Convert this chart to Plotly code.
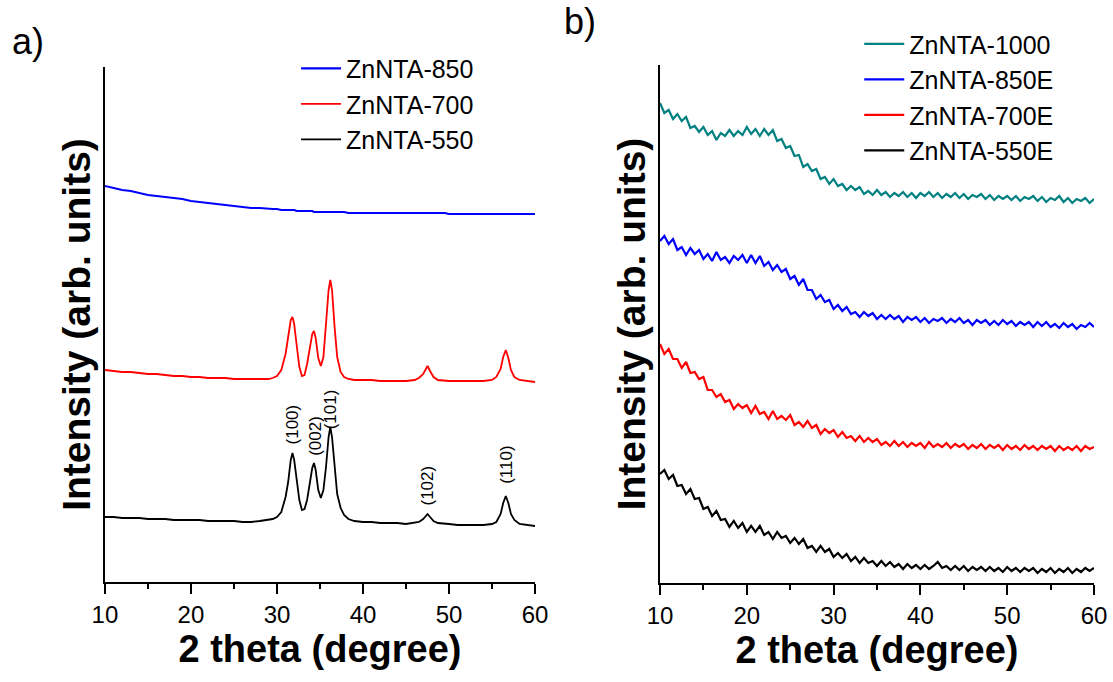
import plotly.graph_objects as go

# ---------------- Panel a data (2 theta in degree, intensity in arb. units) -------------
X_A = [10, 11, 12, 13, 14, 15, 16, 17, 18, 19, 20, 21, 22, 23, 24, 25, 26, 27, 28, 29,
       29.5, 30, 30.5, 31, 31.3, 31.6, 31.8, 32.0, 32.3, 32.6, 32.9,
       33.2, 33.5, 33.8, 34.1, 34.3, 34.5, 34.8, 35.1, 35.4, 35.7,
       36.0, 36.2, 36.4, 36.7, 37.0, 37.4, 37.8, 38.3, 39, 40,
       41, 42, 43, 44, 45, 46,
       46.5, 47, 47.3, 47.5, 47.8, 48.2, 48.7, 49.5, 50,
       51, 52, 53, 54, 55,
       55.5, 56, 56.3, 56.6, 56.9, 57.2, 57.6, 58.2, 59, 60]

ZNNTA_550 = [65, 65, 64, 64, 64, 63, 63, 63, 62, 62, 62, 62, 61, 61, 61, 61, 60, 60, 61, 62,
             63, 65, 70, 85, 100, 122, 129, 122, 100, 82, 72,
             73, 82, 98, 114, 119, 112, 92, 84, 92, 115,
             145, 155, 145, 115, 88, 74, 67, 63, 61, 60,
             60, 59, 59, 59, 58, 59,
             60, 63, 66, 68, 65, 61, 59, 58, 58,
             57, 57, 57, 57, 58,
             60, 68, 79, 86, 79, 68, 62, 58, 57, 56]

ZNNTA_700 = [212, 211, 210, 210, 209, 208, 208, 207, 206, 206, 205, 205, 204, 204, 204, 203, 203, 203, 203, 203,
             204, 206, 212, 228, 245, 262, 265, 258, 236, 215, 206,
             207, 218, 235, 248, 251, 244, 224, 216, 225, 255,
             292, 302, 292, 255, 225, 210, 205, 203, 202, 202,
             202, 201, 201, 201, 201, 202,
             204, 208, 213, 216, 211, 205, 202, 201, 201,
             201, 201, 201, 201, 202,
             205, 213, 225, 232, 224, 212, 205, 202, 201, 200]

ZNNTA_850 = [396, 394, 392, 391, 389, 387, 386, 385, 384, 383, 381, 380, 379, 378, 377, 376, 375, 374, 374, 373,
             373, 373, 372, 372, 372, 372, 372, 372, 371, 371, 371,
             371, 371, 371, 371, 370, 370, 370, 370, 370, 370,
             370, 370, 370, 370, 370, 370, 370, 369, 369, 369,
             369, 369, 369, 369, 369, 369,
             369, 369, 369, 369, 369, 369, 369, 369, 368,
             368, 368, 368, 368, 368,
             368, 368, 368, 368, 368, 368, 368, 368, 368, 368]

PEAK_LABELS = ["(100)", "(002)", "(101)", "(102)", "(110)"]
PEAK_POS = [31.8, 34.4, 36.2, 47.5, 56.6]
PEAK_LABEL_Y = [158, 146, 173, 96, 117]

# ---------------- Panel b data --------------------------------------------------------
X_B = [10 + 0.5 * i for i in range(101)]

ZNNTA_1000 = [480, 470, 473, 464, 469, 462, 466, 455, 457, 451, 456, 448, 452, 443, 450, 447, 453, 447, 452, 448,
              456, 449, 454, 447, 454, 448, 453, 442, 444, 435, 437, 427, 428, 416, 419, 412, 414, 404, 406, 399,
              404, 397, 399, 393, 397, 393, 396, 389, 392, 388, 393, 388, 391, 386, 390, 387, 391, 386, 390, 385,
              390, 387, 391, 386, 390, 385, 389, 386, 390, 385, 389, 384, 388, 386, 389, 384, 388, 383, 387, 384,
              387, 383, 387, 382, 386, 384, 387, 382, 386, 381, 385, 383, 387, 381, 385, 380, 384, 382, 385, 380,
              384]

ZNNTA_850E = [342, 347, 339, 344, 333, 336, 328, 335, 329, 333, 324, 329, 322, 331, 323, 326, 320, 327, 323, 328,
              320, 328, 320, 327, 317, 321, 313, 318, 311, 314, 304, 307, 298, 304, 293, 293, 284, 288, 281, 283,
              274, 278, 272, 276, 269, 271, 266, 271, 267, 270, 264, 268, 264, 268, 264, 267, 261, 266, 263, 266,
              261, 265, 260, 264, 262, 265, 260, 264, 261, 265, 260, 263, 258, 263, 260, 263, 258, 262, 258, 263,
              259, 262, 257, 261, 258, 261, 256, 261, 257, 261, 256, 259, 255, 260, 256, 259, 254, 258, 256, 260,
              256]

ZNNTA_700E = [239, 229, 234, 224, 224, 215, 221, 210, 211, 204, 206, 193, 193, 186, 189, 181, 183, 174, 179, 175,
              178, 170, 177, 169, 171, 164, 172, 164, 167, 163, 168, 158, 161, 156, 162, 155, 158, 149, 154, 150,
              153, 146, 151, 145, 147, 142, 147, 141, 145, 141, 144, 138, 141, 137, 142, 137, 141, 136, 140, 137,
              140, 135, 141, 136, 139, 136, 140, 135, 139, 136, 139, 134, 138, 135, 139, 134, 138, 135, 138, 133,
              138, 134, 137, 133, 138, 134, 137, 133, 137, 134, 137, 132, 137, 133, 136, 133, 137, 132, 137, 134,
              136]

ZNNTA_550E = [109, 113, 104, 108, 97, 98, 89, 94, 84, 85, 74, 76, 67, 72, 63, 64, 56, 62, 55, 60,
              51, 57, 51, 57, 48, 51, 44, 51, 45, 47, 40, 45, 39, 44, 35, 37, 31, 37, 31, 34,
              26, 30, 25, 29, 22, 26, 20, 25, 20, 22, 17, 22, 17, 21, 16, 19, 14, 19, 15, 18,
              14, 18, 14, 17, 21, 15, 17, 13, 17, 13, 17, 12, 16, 13, 16, 12, 16, 12, 15, 11,
              16, 12, 15, 11, 15, 12, 15, 10, 14, 11, 15, 10, 14, 11, 15, 10, 14, 11, 15, 12,
              15]

X_TICKS = [10, 20, 30, 40, 50, 60]

FONT = "Liberation Sans, Arial, sans-serif"

fig = go.Figure()

# panel a traces (legend order: 850, 700, 550)
fig.add_trace(go.Scatter(x=X_A, y=ZNNTA_850, mode="lines", name="ZnNTA-850",
                         line=dict(color="#0000FF", width=2.2), xaxis="x", yaxis="y", legend="legend"))
fig.add_trace(go.Scatter(x=X_A, y=ZNNTA_700, mode="lines", name="ZnNTA-700",
                         line=dict(color="#FF0000", width=1.8), xaxis="x", yaxis="y", legend="legend"))
fig.add_trace(go.Scatter(x=X_A, y=ZNNTA_550, mode="lines", name="ZnNTA-550",
                         line=dict(color="#000000", width=1.8), xaxis="x", yaxis="y", legend="legend"))

# panel b traces
fig.add_trace(go.Scatter(x=X_B, y=ZNNTA_1000, mode="lines", name="ZnNTA-1000",
                         line=dict(color="#008080", width=2.2), xaxis="x2", yaxis="y2", legend="legend2"))
fig.add_trace(go.Scatter(x=X_B, y=ZNNTA_850E, mode="lines", name="ZnNTA-850E",
                         line=dict(color="#0000FF", width=2.2), xaxis="x2", yaxis="y2", legend="legend2"))
fig.add_trace(go.Scatter(x=X_B, y=ZNNTA_700E, mode="lines", name="ZnNTA-700E",
                         line=dict(color="#FF0000", width=2.2), xaxis="x2", yaxis="y2", legend="legend2"))
fig.add_trace(go.Scatter(x=X_B, y=ZNNTA_550E, mode="lines", name="ZnNTA-550E",
                         line=dict(color="#000000", width=2.2), xaxis="x2", yaxis="y2", legend="legend2"))

# peak (hkl) labels on panel a
for lab, px, py in zip(PEAK_LABELS, PEAK_POS, PEAK_LABEL_Y):
    fig.add_annotation(x=px, y=py, xref="x", yref="y", text=lab, showarrow=False,
                       textangle=-90, font=dict(family=FONT, size=17, color="#000000"))

xaxis_common = dict(
    range=[10, 60], tickvals=X_TICKS, ticks="outside", ticklen=10, tickwidth=2, tickcolor="#000000",
    minor=dict(dtick=5, tick0=10, ticks="outside", ticklen=5, tickwidth=2, tickcolor="#000000"),
    showline=True, linecolor="#000000", linewidth=2, showgrid=False, zeroline=False,
    tickfont=dict(family=FONT, size=24, color="#000000"),
    title=dict(text="<b>2 theta (degree)</b>", font=dict(family=FONT, size=38, color="#000000"), standoff=8),
    automargin=False,
)
yaxis_common = dict(
    showline=True, linecolor="#000000", linewidth=2, showgrid=False, zeroline=False,
    showticklabels=False, ticks="",
    title=dict(text="<b>Intensity (arb. units)</b>", font=dict(family=FONT, size=39, color="#000000"), standoff=0),
    automargin=False,
)

fig.update_layout(
    width=1113, height=682,
    margin=dict(l=0, r=0, t=0, b=0),
    paper_bgcolor="white", plot_bgcolor="white",
    font=dict(family=FONT, color="#000000"),
    xaxis=dict(domain=[0.0943, 0.4807], anchor="y", **xaxis_common),
    yaxis=dict(domain=[0.1466, 0.9018], anchor="x", range=[0, 515], **yaxis_common),
    xaxis2=dict(domain=[0.5930, 0.9829], anchor="y2", **xaxis_common),
    yaxis2=dict(domain=[0.1452, 0.9047], anchor="x2", range=[0, 518], **yaxis_common),
    legend=dict(x=0.266, y=0.933, xanchor="left", yanchor="top", bgcolor="rgba(0,0,0,0)",
                font=dict(family=FONT, size=25, color="#000000"), tracegroupgap=0, itemwidth=40),
    legend2=dict(x=0.772, y=0.969, xanchor="left", yanchor="top", bgcolor="rgba(0,0,0,0)",
                 font=dict(family=FONT, size=25, color="#000000"), tracegroupgap=0, itemwidth=40),
    showlegend=True,
)

fig.add_annotation(x=0.009, y=1 - 42 / 682, xref="paper", yref="paper", text="a)", showarrow=False,
                   xanchor="left", yanchor="middle", font=dict(family=FONT, size=36, color="#000000"))
fig.add_annotation(x=0.505, y=1 - 22 / 682, xref="paper", yref="paper", text="b)", showarrow=False,
                   xanchor="left", yanchor="middle", font=dict(family=FONT, size=36, color="#000000"))

fig.write_html("out.html")
